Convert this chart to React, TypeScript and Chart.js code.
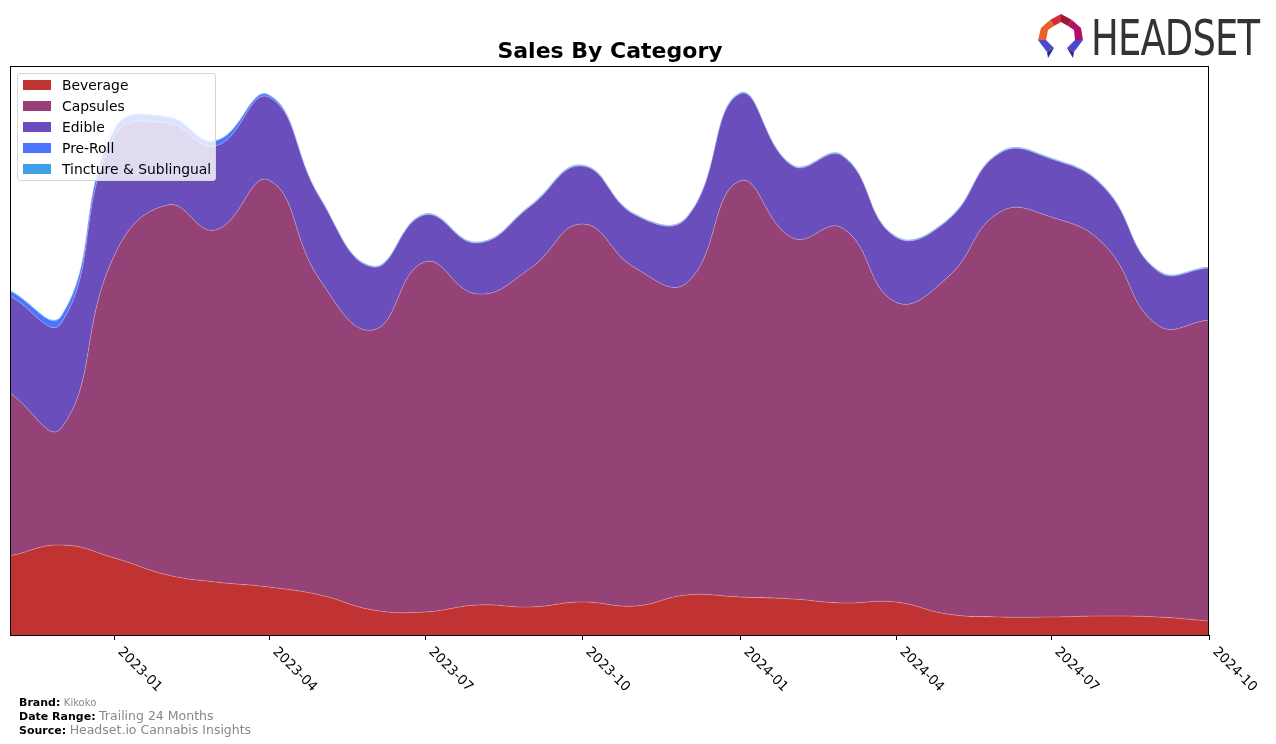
import React, { useEffect, useRef } from "react";
import { Chart, registerables } from "chart.js";

Chart.register(...registerables);

// Month start offsets in days from 2022-11-01
const monthDays = [0, 30, 61, 92, 120, 151, 181, 212, 242, 273, 304, 334, 365, 395, 426, 457, 486, 517, 547, 578, 608, 639, 670, 700];
const months = ["2022-11", "2022-12", "2023-01", "2023-02", "2023-03", "2023-04", "2023-05", "2023-06", "2023-07", "2023-08", "2023-09", "2023-10", "2023-11", "2023-12", "2024-01", "2024-02", "2024-03", "2024-04", "2024-05", "2024-06", "2024-07", "2024-08", "2024-09", "2024-10"];

const beverage = [79, 90, 77, 60, 53, 48, 40, 25, 23, 30, 28, 33, 29, 40, 38, 36, 32, 33, 21, 18, 18, 19, 18, 14];
const capsules = [163, 117, 303, 370, 352, 407, 315, 280, 350, 311, 339, 378, 338, 312, 416, 361, 375, 300, 336, 405, 400, 371, 292, 301];
const edible = [97, 105, 119, 82, 84, 83, 82, 63, 47, 51, 62, 58, 53, 65, 87, 72, 72, 65, 57, 59, 58, 57, 54, 52];
const preRoll = [5, 7, 7, 6, 5, 2, 0.5, 0.5, 0.5, 0.5, 0.5, 0.5, 0.5, 0.5, 0.5, 0.5, 0.5, 0.5, 0.5, 0.5, 0.5, 0.5, 0.5, 0.5];
const tincture = [0.8, 0.8, 0.8, 0.8, 0.8, 0.8, 0.8, 0.8, 0.8, 0.8, 0.8, 0.8, 0.8, 0.8, 0.8, 0.8, 0.8, 0.8, 0.8, 0.8, 0.8, 0.8, 0.8, 0.8];

const tickDays = [61, 151, 242, 334, 426, 517, 608, 700];
const tickLabels = ["2023-01", "2023-04", "2023-07", "2023-10", "2024-01", "2024-04", "2024-07", "2024-10"];

const seriesNames = ["Beverage", "Capsules", "Edible", "Pre-Roll", "Tincture & Sublingual"];
const seriesColors = ["#c13232", "#954277", "#6a4ebb", "#4a76fd", "#3e9fe8"];
const legendColors = ["#c03434", "#973e76", "#6a4bbf", "#4a74ff", "#3fa0e8"];

const FONT = "'DejaVu Sans', sans-serif";

const axisPlugin = {
  id: "mplAxis",
  afterDraw(chart: any) {
    const { ctx, chartArea } = chart;
    const xs = chart.scales.x;
    ctx.save();
    ctx.strokeStyle = "#000";
    ctx.lineWidth = 1;
    ctx.strokeRect(chartArea.left + 0.5, chartArea.top + 0.5, chartArea.right - chartArea.left - 1, chartArea.bottom - chartArea.top);
    ctx.fillStyle = "#000";
    ctx.font = `13.5px ${FONT}`;
    tickDays.forEach((d, i) => {
      const px = Math.round(xs.getPixelForValue(d)) + 0.5;
      ctx.beginPath();
      ctx.moveTo(px, chartArea.bottom);
      ctx.lineTo(px, chartArea.bottom + 5);
      ctx.stroke();
      ctx.save();
      ctx.translate(px + 10, chartArea.bottom + 10);
      ctx.rotate(Math.PI / 4);
      ctx.textAlign = "left";
      ctx.textBaseline = "top";
      ctx.fillText(tickLabels[i], 0, 0);
      ctx.restore();
    });
    ctx.restore();
  },
};

function HeadsetLogo() {
  return (
    <div style={{ position: "absolute", left: 1036, top: 12, width: 235, height: 50 }}>
      <svg width="50" height="50" viewBox="0 0 50 50" style={{ position: "absolute", left: 0, top: 0 }}>
        <polygon points="25,2 14,8 18,14 25,10" fill="#d42a3a" />
        <polygon points="25,2 36,8 32,14 25,10" fill="#a01535" />
        <polygon points="14,8 5,16 2,28 10,28 12,18 18,14" fill="#e8602a" />
        <polygon points="36,8 45,16 47,28 39,28 38,18 32,14" fill="#b0106a" />
        <polygon points="2,28 10,28 18,36 11,40" fill="#4a4ad0" />
        <polygon points="11,40 18,36 12,46" fill="#2a2a80" />
        <polygon points="47,28 39,28 31,36 38,40" fill="#4a4ad0" />
        <polygon points="38,40 31,36 37,46" fill="#2a2a80" />
      </svg>
      <span
        style={{
          position: "absolute",
          left: 55,
          top: -3,
          fontFamily: "'DejaVu Sans Condensed', 'DejaVu Sans', sans-serif",
          fontSize: 50,
          color: "#333",
          transform: "scaleX(0.82)",
          transformOrigin: "left top",
          whiteSpace: "nowrap",
          letterSpacing: -1,
        }}
      >
        HEADSET
      </span>
    </div>
  );
}

export default function App() {
  const canvasRef = useRef<HTMLCanvasElement>(null);

  useEffect(() => {
    const build = (vals: number[]) => vals.map((v, i) => ({ x: monthDays[i], y: v }));
    const allSeries = [beverage, capsules, edible, preRoll, tincture];
    const datasets = allSeries.map((vals, i) => ({
      label: seriesNames[i],
      data: build(vals),
      backgroundColor: seriesColors[i],
      borderColor: "rgba(255,255,255,0.25)",
      borderWidth: 1,
      pointRadius: 0,
      tension: 0.45,
      fill: i === 0 ? "origin" : "-1",
    }));
    const chart = new Chart(canvasRef.current as HTMLCanvasElement, {
      type: "line",
      data: { datasets },
      options: {
        responsive: false,
        animation: false,
        devicePixelRatio: 1,
        layout: { padding: { left: 10, right: 67, top: 66, bottom: 109 } },
        plugins: { legend: { display: false }, title: { display: false }, tooltip: { enabled: false } },
        scales: {
          x: { type: "linear", min: 0, max: 700, display: false },
          y: { type: "linear", min: 0, max: 569, stacked: true, display: false },
        },
      },
      plugins: [axisPlugin],
    } as any);
    return () => chart.destroy();
  }, []);

  return (
    <div style={{ position: "fixed", left: 0, top: 0, width: 1276, height: 744, background: "#fff", fontFamily: FONT }}>
      <canvas ref={canvasRef} width={1276} height={744} style={{ position: "absolute", left: 0, top: 0 }} />
      <div style={{ position: "absolute", left: 0, width: 1220, top: 38, textAlign: "center", fontWeight: "bold", fontSize: 22, color: "#000" }}>
        Sales By Category
      </div>
      <div
        style={{
          position: "absolute",
          left: 17,
          top: 73,
          width: 197,
          height: 106,
          background: "rgba(255,255,255,0.8)",
          border: "1px solid #d6d6d6",
          borderRadius: 3,
        }}
      >
        {seriesNames.map((n, i) => (
          <div key={n} style={{ position: "absolute", left: 5, top: 4 + i * 21, height: 14, display: "flex", alignItems: "center" }}>
            <div style={{ width: 28, height: 10, background: legendColors[i] }} />
            <span style={{ marginLeft: 11, fontSize: 13.9, color: "#000", whiteSpace: "nowrap" }}>{n}</span>
          </div>
        ))}
      </div>
      <div style={{ position: "absolute", left: 19, top: 696, fontSize: 11, lineHeight: "13px", whiteSpace: "nowrap" }}>
        <div>
          <b style={{ color: "#000" }}>Brand:</b> <span style={{ color: "#888", fontSize: 10 }}>Kikoko</span>
        </div>
        <div>
          <b style={{ color: "#000" }}>Date Range:</b> <span style={{ color: "#888", fontSize: 12.5 }}>Trailing 24 Months</span>
        </div>
        <div>
          <b style={{ color: "#000" }}>Source:</b> <span style={{ color: "#888", fontSize: 12.5 }}>Headset.io Cannabis Insights</span>
        </div>
      </div>
      <HeadsetLogo />
    </div>
  );
}
